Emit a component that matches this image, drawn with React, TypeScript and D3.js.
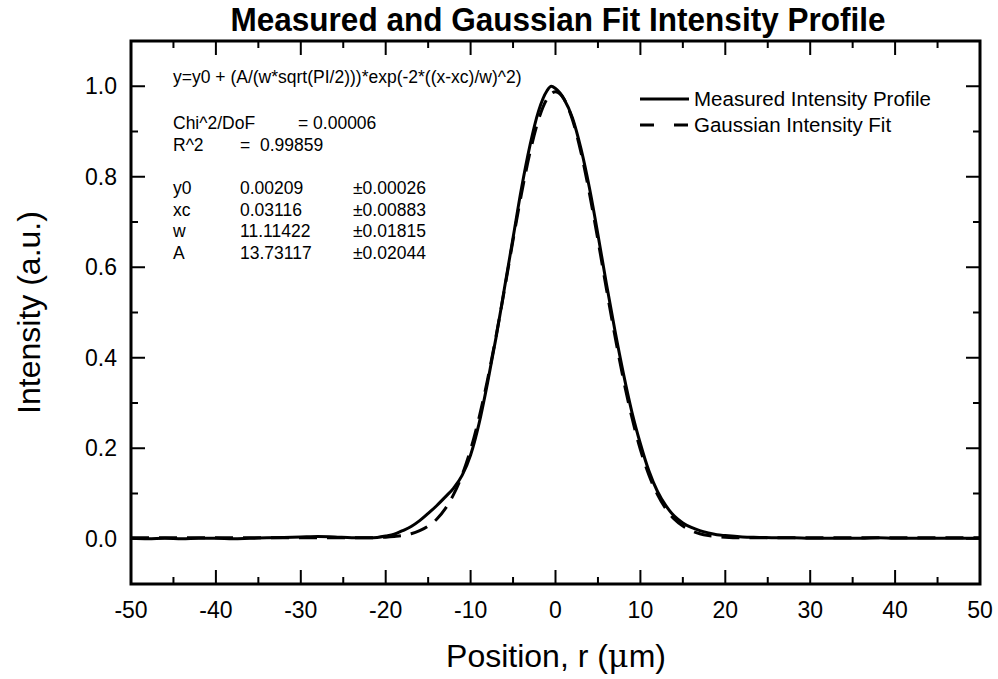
import React from 'react';
import * as d3 from 'd3';

// measured profile (position in um, normalised intensity)
const measuredX = [-50, -48, -46, -44, -42, -40, -38, -36, -34, -32, -30, -28, -26, -24, -22, -21, -20, -19, -18, -17, -16, -15, -14, -13, -12, -11, -10, -9, -8, -7, -6, -5, -4, -3, -2, -1, -0.5, 0, 1, 2, 3, 4, 5, 6, 7, 8, 9, 10, 11, 12, 13, 14, 15, 16, 17, 18, 19, 20, 22, 24, 26, 28, 30, 32, 34, 36, 38, 40, 42, 44, 46, 48, 50];
const measuredY = [0.001, 0.0, 0.001, 0.0, 0.001, 0.001, 0.0, 0.001, 0.002, 0.003, 0.004, 0.005, 0.004, 0.002, 0.002, 0.003, 0.006, 0.01, 0.018, 0.027, 0.04, 0.056, 0.073, 0.092, 0.112, 0.14, 0.185, 0.255, 0.345, 0.445, 0.555, 0.665, 0.775, 0.87, 0.945, 0.99, 1.0, 0.995, 0.972, 0.93, 0.862, 0.775, 0.672, 0.563, 0.46, 0.365, 0.28, 0.21, 0.15, 0.105, 0.073, 0.05, 0.035, 0.025, 0.018, 0.013, 0.009, 0.007, 0.004, 0.003, 0.002, 0.002, 0.001, 0.001, 0.001, 0.001, 0.002, 0.001, 0.001, 0.001, 0.001, 0.001, 0.001];

// gaussian fit curve
const fitX = [-50, -40, -30, -24, -22, -20, -19, -18, -17, -16, -15, -14, -13, -12, -11, -10, -9, -8, -7, -6, -5, -4, -3, -2, -1, 0, 1, 2, 3, 4, 5, 6, 7, 8, 9, 10, 11, 12, 13, 14, 15, 16, 17, 18, 19, 20, 22, 24, 30, 40, 50];
const fitY = [0.002, 0.002, 0.002, 0.002, 0.002, 0.0035, 0.005, 0.007, 0.011, 0.018, 0.028, 0.043, 0.066, 0.098, 0.141, 0.197, 0.268, 0.352, 0.448, 0.552, 0.66, 0.763, 0.854, 0.926, 0.972, 0.988, 0.972, 0.926, 0.854, 0.763, 0.66, 0.552, 0.448, 0.352, 0.268, 0.197, 0.141, 0.098, 0.066, 0.043, 0.028, 0.018, 0.011, 0.007, 0.005, 0.0035, 0.002, 0.002, 0.002, 0.002, 0.002];

const xMajor = [-50, -40, -30, -20, -10, 0, 10, 20, 30, 40, 50];
const xMinor = [-45, -35, -25, -15, -5, 5, 15, 25, 35, 45];
const yMajor = [0, 0.2, 0.4, 0.6, 0.8, 1.0];
const yMinor = [0.1, 0.3, 0.5, 0.7, 0.9];

const formulaText = 'y=y0 + (A/(w*sqrt(PI/2)))*exp(-2*((x-xc)/w)^2)';
const statNames = ['Chi^2/DoF', 'R^2'];
const statValues = ['= 0.00006', '=\u00a0\u00a00.99859'];
const paramNames = ['y0', 'xc', 'w', 'A'];
const paramValues = ['0.00209', '0.03116', '11.11422', '13.73117'];
const paramErrors = ['\u00b10.00026', '\u00b10.00883', '\u00b10.01815', '\u00b10.02044'];

const legendLabels = ['Measured Intensity Profile', 'Gaussian Intensity Fit'];

const W = 998;
const H = 679;
const left = 131, right = 980, top = 41, bottom = 584;
const font = '"Liberation Sans", Arial, sans-serif';

export default function App() {
  const x = d3.scaleLinear().domain([-50, 50]).range([left, right]);
  const y = d3.scaleLinear().domain([-0.1, 1.1]).range([bottom, top]);

  const line = d3
    .line<[number, number]>()
    .x((d) => x(d[0]))
    .y((d) => y(d[1]))
    .curve(d3.curveMonotoneX);

  const measured = measuredX.map((v, i) => [v, measuredY[i]] as [number, number]);
  const fit = fitX.map((v, i) => [v, fitY[i]] as [number, number]);
  const fmt = d3.format('.1f');

  const tickW = 2;
  const major = 14;
  const minor = 7;

  return (
    <svg width={W} height={H} style={{ position: 'absolute', left: 0, top: 0, background: '#fff' }}>
      <rect width={W} height={H} fill="#fff" />
      <text
        x={558}
        y={31}
        textAnchor="middle"
        fontFamily={'"Liberation Sans Narrow", "Liberation Sans", Arial, sans-serif'}
        fontWeight="bold"
        fontSize={33}
        textLength={655}
        lengthAdjust="spacingAndGlyphs"
      >
        Measured and Gaussian Fit Intensity Profile
      </text>

      <g clipPath="url(#plotClip)">
        <path d={line(measured) ?? ''} fill="none" stroke="#000" strokeWidth={3} strokeLinejoin="round" />
        <path d={line(fit) ?? ''} fill="none" stroke="#000" strokeWidth={3} strokeDasharray="18 10" />
      </g>
      <defs>
        <clipPath id="plotClip">
          <rect x={left} y={top} width={right - left} height={bottom - top} />
        </clipPath>
      </defs>

      {/* ticks, all four sides, pointing in */}
      <g stroke="#000" strokeWidth={tickW}>
        {xMajor.map((v) => (
          <g key={'xm' + v}>
            <line x1={x(v)} x2={x(v)} y1={bottom} y2={bottom - major} />
            <line x1={x(v)} x2={x(v)} y1={top} y2={top + major} />
          </g>
        ))}
        {xMinor.map((v) => (
          <g key={'xn' + v}>
            <line x1={x(v)} x2={x(v)} y1={bottom} y2={bottom - minor} />
            <line x1={x(v)} x2={x(v)} y1={top} y2={top + minor} />
          </g>
        ))}
        {yMajor.map((v) => (
          <g key={'ym' + v}>
            <line x1={left} x2={left + major} y1={y(v)} y2={y(v)} />
            <line x1={right} x2={right - major} y1={y(v)} y2={y(v)} />
          </g>
        ))}
        {yMinor.map((v) => (
          <g key={'yn' + v}>
            <line x1={left} x2={left + minor} y1={y(v)} y2={y(v)} />
            <line x1={right} x2={right - minor} y1={y(v)} y2={y(v)} />
          </g>
        ))}
      </g>
      <rect x={left} y={top} width={right - left} height={bottom - top} fill="none" stroke="#000" strokeWidth={3} />

      <g fontFamily={font} fontSize={23}>
        {xMajor.map((v) => (
          <text key={v} x={x(v)} y={618} textAnchor="middle">
            {v}
          </text>
        ))}
        {yMajor.map((v) => (
          <text key={v} x={117} y={y(v) + 8} textAnchor="end">
            {fmt(v)}
          </text>
        ))}
      </g>

      <text x={556} y={667} textAnchor="middle" fontFamily={font} fontSize={32}>
        Position, r (<tspan fontFamily={'"DejaVu Serif", serif'}>μ</tspan>m)
      </text>
      <text
        transform={`translate(40, ${y(0.5)}) rotate(-90)`}
        textAnchor="middle"
        fontFamily={font}
        fontSize={32}
      >
        Intensity (a.u.)
      </text>

      {/* fit report */}
      <g fontFamily={font} fontSize={17.5}>
        <text x={173} y={83}>{formulaText}</text>
        {statNames.map((s, i) => (
          <g key={s}>
            <text x={173} y={129 + i * 21.5}>{s}</text>
            <text x={i === 0 ? 298 : 240} y={129 + i * 21.5}>{statValues[i]}</text>
          </g>
        ))}
        {paramNames.map((p, i) => (
          <g key={p}>
            <text x={173} y={194 + i * 21.7}>{p}</text>
            <text x={240} y={194 + i * 21.7}>{paramValues[i]}</text>
            <text x={353} y={194 + i * 21.7}>{paramErrors[i]}</text>
          </g>
        ))}
      </g>

      {/* legend */}
      <g fontFamily={font} fontSize={20.5}>
        {legendLabels.map((l, i) => (
          <g key={l}>
            <line
              x1={640}
              x2={689}
              y1={99 + i * 26}
              y2={99 + i * 26}
              stroke="#000"
              strokeWidth={3}
              strokeDasharray={i === 1 ? '14 20' : undefined}
            />
            <text x={694} y={106 + i * 26}>{l}</text>
          </g>
        ))}
      </g>
    </svg>
  );
}
